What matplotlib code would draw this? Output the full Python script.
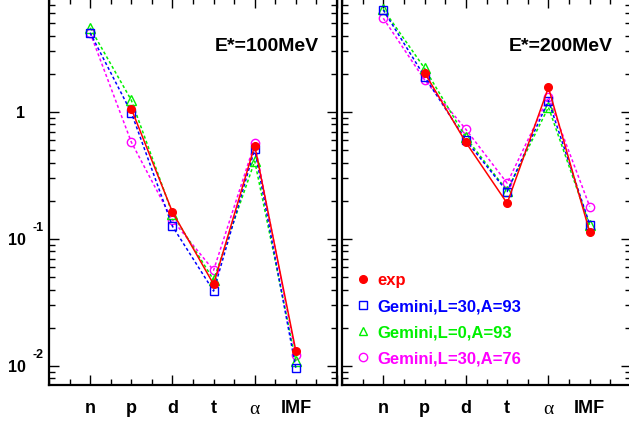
import matplotlib
matplotlib.use('Agg')
import matplotlib.pyplot as plt
from matplotlib.lines import Line2D
from matplotlib.ticker import FixedLocator, LogLocator, NullFormatter

plt.rcParams['font.family'] = ['Liberation Sans', 'DejaVu Sans']

# ── data ─────────────────────────────────────────────
particles = ['n', 'p', 'd', 't', 'α', 'IMF']
xpos = [1, 2, 3, 4, 5, 6]

# E* = 100 MeV
exp_100   = [None, 1.06, 0.163, 0.044, 0.543, 0.0131]
g30_93_100 = [4.2, 0.99, 0.126, 0.0389, 0.51, 0.0096]
g0_93_100  = [4.6, 1.24, 0.158, 0.0476, 0.41, 0.0109]
g30_76_100 = [4.2, 0.58, 0.141, 0.0567, 0.567, 0.0121]

# E* = 200 MeV
exp_200   = [None, 2.04, 0.577, 0.191, 1.56, 0.1135]
g30_93_200 = [6.36, 1.90, 0.60, 0.236, 1.23, 0.130]
g0_93_200  = [6.45, 2.21, 0.63, 0.240, 1.09, 0.128]
g30_76_200 = [5.47, 1.79, 0.73, 0.275, 1.31, 0.180]

panel_titles = ['E*=100MeV', 'E*=200MeV']
legend_labels = ['exp', 'Gemini,L=30,A=93', 'Gemini,L=0,A=93', 'Gemini,L=30,A=76']

RED, BLUE, GREEN, MAG = '#ff0000', '#0000ff', '#00f000', '#ff00ff'
DOT = (0, (2, 1.6))

fig = plt.figure(figsize=(6.29, 4.25), dpi=100)
ax1 = fig.add_axes([0.0779, 0.0941, 0.4579, 0.9106])
ax2 = fig.add_axes([0.5437, 0.0941, 0.4595, 0.9106])

def draw(ax, exp, b, g, m):
    xe = [x for x, v in zip(xpos, exp) if v is not None]
    ve = [v for v in exp if v is not None]
    ax.plot(xpos, m, linestyle=DOT, color=MAG, lw=1.1, marker='o', ms=6,
            mfc='none', mec=MAG, mew=1.0, zorder=3)
    ax.plot(xpos, g, linestyle=DOT, color=GREEN, lw=1.1, marker='^', ms=6.5,
            mfc='none', mec=GREEN, mew=1.0, zorder=4)
    ax.plot(xpos, b, linestyle=DOT, color=BLUE, lw=1.1, marker='s', ms=5.5,
            mfc='none', mec=BLUE, mew=1.0, zorder=5)
    ax.plot(xe, ve, linestyle='-', color=RED, lw=1.1, marker='o', ms=5.5,
            mfc=RED, mec=RED, zorder=6)

def style(ax, title, ylabels):
    ax.set_yscale('log')
    ax.set_ylim(10 ** -2.15, 10 ** 0.8976)
    ax.set_xlim(0, 7)
    ax.xaxis.set_major_locator(FixedLocator([1, 3, 5, 7]))
    ax.xaxis.set_minor_locator(FixedLocator([0.5 * i for i in range(15)]))
    ax.yaxis.set_major_locator(FixedLocator([0.01, 0.1, 1]))
    ax.yaxis.set_minor_locator(LogLocator(base=10, subs=range(2, 10)))
    ax.yaxis.set_minor_formatter(NullFormatter())
    ax.tick_params(which='both', direction='in', top=True, right=True,
                   labelbottom=False, width=1.0)
    ax.tick_params(which='major', length=7)
    ax.tick_params(which='minor', length=4)
    for s in ax.spines.values():
        s.set_linewidth(1.6)
    if ylabels:
        ax.set_yticklabels(['10', '10', '1'])
        ax.tick_params(axis='y', which='major', pad=17, labelsize=11.5)
        for lab in ax.get_yticklabels():
            lab.set_fontweight('bold')
        for v, e in [(0.1, '-1'), (0.01, '-2')]:
            ax.annotate(e, xy=(0, v), xycoords=ax.get_yaxis_transform(),
                        xytext=(-12.2, 8.2), textcoords='offset points',
                        ha='left', va='center', fontsize=9, fontweight='bold')
    else:
        ax.tick_params(axis='y', labelleft=False)
    tr = ax.get_xaxis_transform()
    for x, p in zip(xpos, particles):
        if p == 'α':
            ax.text(x, -0.062, p, transform=tr, ha='center', va='center',
                    fontsize=14, family='Liberation Serif')
        else:
            ax.text(x, -0.06, p, transform=tr, ha='center', va='center',
                    fontsize=13, fontweight='bold')
    ax.text(0.936, 0.874, title, transform=ax.transAxes, ha='right',
            va='center', fontsize=14, fontweight='bold')

draw(ax1, exp_100, g30_93_100, g0_93_100, g30_76_100)
draw(ax2, exp_200, g30_93_200, g0_93_200, g30_76_200)
style(ax1, panel_titles[0], True)
style(ax2, panel_titles[1], False)

handles = [
    Line2D([], [], ls='none', marker='o', ms=5.5, mfc=RED, mec=RED),
    Line2D([], [], ls='none', marker='s', ms=6, mfc='none', mec=BLUE, mew=1.0),
    Line2D([], [], ls='none', marker='^', ms=6, mfc='none', mec=GREEN, mew=1.0),
    Line2D([], [], ls='none', marker='o', ms=6, mfc='none', mec=MAG, mew=1.0),
]
leg = ax2.legend(handles, legend_labels, loc='upper left',
                 bbox_to_anchor=(0.044, 0.289), frameon=False, borderpad=0,
                 borderaxespad=0, handlelength=1.0, handletextpad=0.35,
                 labelspacing=0.66, prop={'weight': 'bold', 'size': 12},
                 labelcolor=[RED, BLUE, GREEN, MAG])

fig.savefig('out.png', dpi=100)
